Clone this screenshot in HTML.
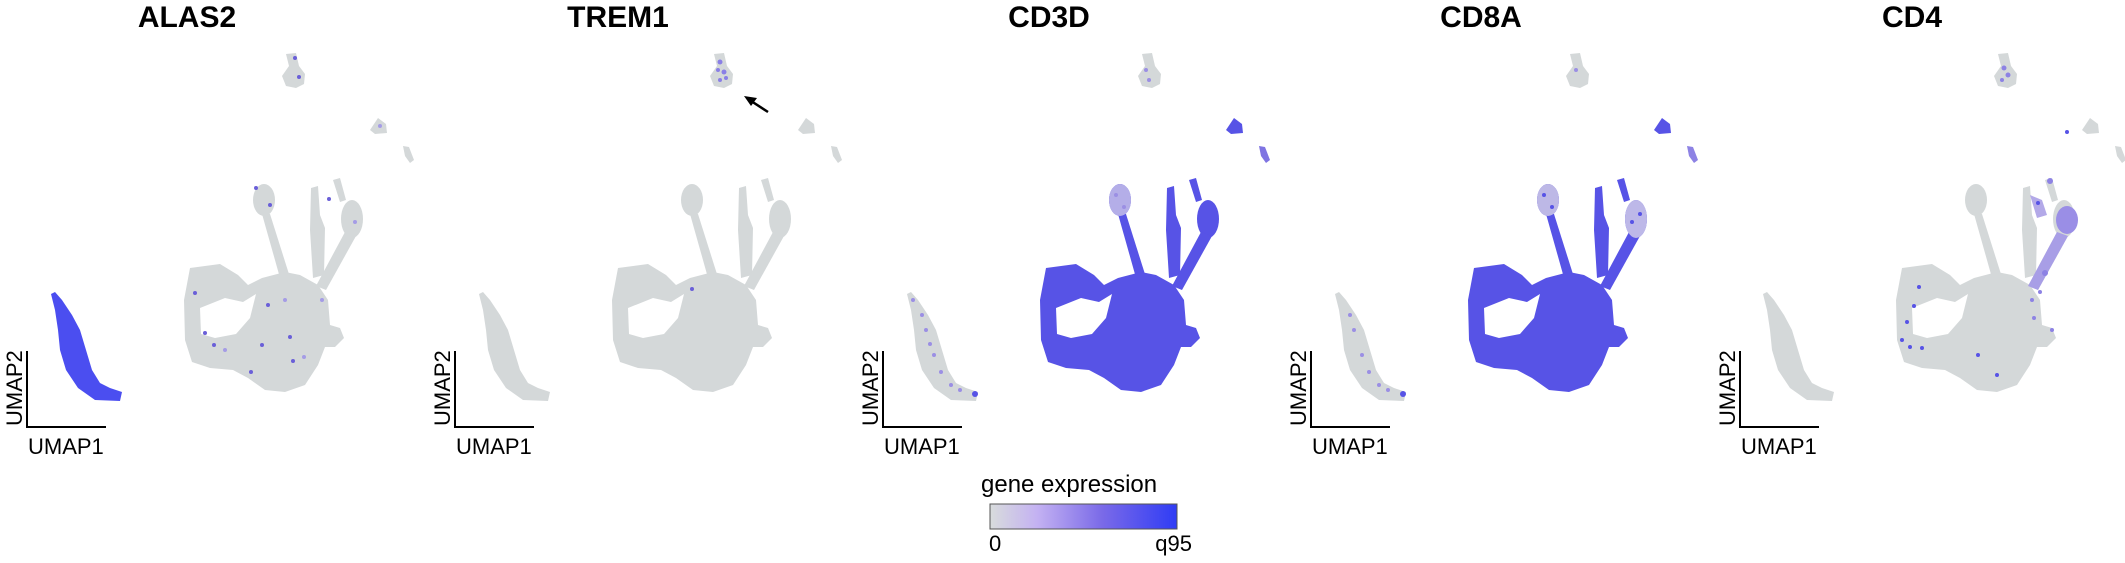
<!DOCTYPE html>
<html><head><meta charset="utf-8"><style>
html,body{margin:0;padding:0;background:#fff;}
svg{display:block;}
text{font-family:"Liberation Sans",Arial,sans-serif;}
</style></head><body>
<svg width="2125" height="563" viewBox="0 0 2125 563" xmlns="http://www.w3.org/2000/svg">
<defs>
<linearGradient id="lg" x1="0" x2="1" y1="0" y2="0">
<stop offset="0" stop-color="#d8dcdc"/>
<stop offset="0.25" stop-color="#c4b2f2"/>
<stop offset="0.6" stop-color="#7a6ae8"/>
<stop offset="1" stop-color="#2f3cf5"/>
</linearGradient>
<g id="island"><path d="M286,54 L296,53 L299,66 L305,74 L304,84 L296,88 L286,86 L282,76 L289,66 Z"/></g>
<g id="small1"><path d="M370,130 L378,118 L386,124 L387,133 L375,134 Z"/></g>
<g id="small2"><path d="M403,146 L409,147 L414,160 L410,163 L405,156 Z"/></g>
<g id="arms">
<ellipse cx="264" cy="200" rx="11" ry="16"/>
<path d="M262,214 L270,214 L294,290 L284,292 Z"/>
<path d="M311,188 L318,186 L320,215 L325,228 L324,275 L313,278 L310,230 Z"/>
<ellipse cx="352" cy="219" rx="11" ry="19"/>
<path d="M345,232 L356,236 L326,290 L316,286 Z"/>
<path d="M333,180 L340,178 L346,200 L340,202 Z"/>
</g>
<g id="blob"><path d="M190,268 L220,264 L238,275 L248,285 L262,278 L285,272 L300,275 L318,285 L328,300 L330,325 L340,328 L344,338 L335,347 L325,347 L318,365 L305,385 L285,392 L265,390 L248,378 L233,370 L210,368 L192,362 L185,340 L184,300 Z"/></g>
<g id="hole"><path d="M200,308 L225,298 L243,302 L256,294 L250,318 L236,334 L215,338 L201,334 Z"/></g>
<g id="cres"><path d="M51,294 L55,310 L58,330 L60,350 L66,370 L78,388 L95,400 L120,401 L122,392 L110,388 L100,383 L92,370 L86,350 L80,330 L72,315 L62,300 L55,292 Z"/></g>
</defs>

<g font-weight="bold" font-size="30" text-anchor="middle" fill="#000">
<text x="187" y="27">ALAS2</text>
<text x="618" y="27">TREM1</text>
<text x="1049" y="27">CD3D</text>
<text x="1481" y="27">CD8A</text>
<text x="1912" y="27">CD4</text>
</g>

<!-- Panel 1 ALAS2 -->
<g transform="translate(0,0)">
<g fill="#d4d8d9"><use href="#island"/><use href="#small1"/><use href="#small2"/><use href="#arms"/><use href="#blob"/></g>
<use href="#hole" fill="#fff"/>
<use href="#cres" fill="#4b4ef0"/>
<g fill="#6a5fd8"><circle cx="295" cy="58" r="2"/><circle cx="299" cy="77" r="2"/><circle cx="256" cy="188" r="2"/><circle cx="270" cy="205" r="2"/><circle cx="329" cy="199" r="2"/><circle cx="195" cy="293" r="2"/><circle cx="205" cy="333" r="2"/><circle cx="262" cy="345" r="2"/><circle cx="290" cy="337" r="2"/><circle cx="214" cy="345" r="2"/><circle cx="268" cy="305" r="2"/><circle cx="293" cy="361" r="2"/><circle cx="251" cy="372" r="2"/></g>
<g fill="#a59ce6"><circle cx="285" cy="300" r="2"/><circle cx="304" cy="357" r="2"/><circle cx="225" cy="350" r="2"/><circle cx="322" cy="300" r="2"/><circle cx="355" cy="222" r="2"/><circle cx="380" cy="126" r="2"/></g>
</g>

<!-- Panel 2 TREM1 -->
<g transform="translate(428,0)">
<g fill="#d4d8d9"><use href="#island"/><use href="#small1"/><use href="#small2"/><use href="#arms"/><use href="#blob"/><use href="#cres"/></g>
<use href="#hole" fill="#fff"/>
<g fill="#8a7fe6"><circle cx="292" cy="62" r="2.5"/><circle cx="296" cy="72" r="2.5"/><circle cx="290" cy="70" r="2"/><circle cx="298" cy="78" r="2"/><circle cx="292" cy="80" r="2"/></g>
<circle cx="264" cy="289" r="2" fill="#6a5fd8"/>
</g>
<path d="M768,112 L748,99" stroke="#000" stroke-width="2.5"/>
<path d="M744,96 L757,98 L751,106 Z" fill="#000"/>

<!-- Panel 3 CD3D -->
<g transform="translate(856,0)">
<g fill="#d4d8d9"><use href="#island"/><use href="#cres"/></g>
<g fill="#5753e6"><use href="#small1"/><use href="#arms"/><use href="#blob"/></g>
<use href="#small2" fill="#7f74e2"/>
<ellipse cx="264" cy="200" rx="11" ry="16" fill="#b4aee8"/>
<use href="#hole" fill="#fff"/>
<g fill="#9b8fe4"><circle cx="70" cy="330" r="2"/><circle cx="78" cy="355" r="2"/><circle cx="85" cy="372" r="2"/><circle cx="95" cy="385" r="2"/><circle cx="66" cy="315" r="2"/><circle cx="74" cy="344" r="2"/><circle cx="104" cy="390" r="2"/><circle cx="290" cy="70" r="2"/><circle cx="293" cy="80" r="2"/><circle cx="57" cy="300" r="2"/><circle cx="260" cy="195" r="2"/><circle cx="268" cy="207" r="2"/></g>
<circle cx="119" cy="394" r="3" fill="#5753e6"/>
</g>

<!-- Panel 4 CD8A -->
<g transform="translate(1284,0)">
<g fill="#d4d8d9"><use href="#island"/><use href="#cres"/></g>
<g fill="#5753e6"><use href="#small1"/><use href="#arms"/><use href="#blob"/></g>
<use href="#small2" fill="#8d82e4"/>
<ellipse cx="264" cy="200" rx="11" ry="16" fill="#bdb8e6"/>
<ellipse cx="352" cy="219" rx="11" ry="19" fill="#bdb8e8"/>
<use href="#hole" fill="#fff"/>
<g fill="#9b8fe4"><circle cx="70" cy="330" r="2"/><circle cx="78" cy="355" r="2"/><circle cx="85" cy="372" r="2"/><circle cx="95" cy="385" r="2"/><circle cx="66" cy="315" r="2"/><circle cx="104" cy="390" r="2"/><circle cx="292" cy="70" r="2"/></g>
<g fill="#5753e6"><circle cx="348" cy="222" r="2"/><circle cx="356" cy="214" r="2"/><circle cx="260" cy="195" r="2"/><circle cx="268" cy="207" r="2"/><circle cx="119" cy="394" r="3"/></g>
</g>

<!-- Panel 5 CD4 -->
<g transform="translate(1712,0)">
<g fill="#d4d8d9"><use href="#island"/><use href="#small1"/><use href="#small2"/><use href="#arms"/><use href="#blob"/><use href="#cres"/></g>
<use href="#hole" fill="#fff"/>
<ellipse cx="355" cy="220" rx="11" ry="14" fill="#9a8ee6"/>
<path d="M345,232 L356,236 L326,290 L316,286 Z" fill="#a89ee6"/>
<path d="M318,195 L330,200 L335,215 L325,218 Z" fill="#b3a9e8"/>
<g fill="#8d82e4"><circle cx="292" cy="68" r="2.5"/><circle cx="296" cy="75" r="2.5"/><circle cx="290" cy="80" r="2"/><circle cx="338" cy="181" r="3"/><circle cx="333" cy="273" r="3"/><circle cx="328" cy="292" r="2"/><circle cx="320" cy="300" r="2"/><circle cx="322" cy="318" r="2"/><circle cx="340" cy="330" r="2"/></g>
<g fill="#5753e6"><circle cx="207" cy="287" r="2"/><circle cx="202" cy="306" r="2"/><circle cx="195" cy="322" r="2"/><circle cx="190" cy="340" r="2"/><circle cx="198" cy="347" r="2"/><circle cx="210" cy="348" r="2"/><circle cx="266" cy="355" r="2"/><circle cx="285" cy="375" r="2"/><circle cx="355" cy="132" r="2"/><circle cx="326" cy="203" r="2"/></g>
</g>

<g stroke="#000" stroke-width="2" fill="none">
<path d="M27,351 V427 H106"/>
<path d="M455,351 V427 H534"/>
<path d="M883,351 V427 H962"/>
<path d="M1311,351 V427 H1390"/>
<path d="M1740,351 V427 H1819"/>
</g>
<g font-size="22" fill="#000">
<text x="28" y="454">UMAP1</text>
<text x="456" y="454">UMAP1</text>
<text x="884" y="454">UMAP1</text>
<text x="1312" y="454">UMAP1</text>
<text x="1741" y="454">UMAP1</text>
<text transform="translate(22,426) rotate(-90)">UMAP2</text>
<text transform="translate(450,426) rotate(-90)">UMAP2</text>
<text transform="translate(878,426) rotate(-90)">UMAP2</text>
<text transform="translate(1306,426) rotate(-90)">UMAP2</text>
<text transform="translate(1735,426) rotate(-90)">UMAP2</text>
</g>

<text x="981" y="492" font-size="24" fill="#000">gene expression</text>
<rect x="990" y="504" width="187" height="25" fill="url(#lg)" stroke="#555" stroke-width="1"/>
<text x="989" y="551" font-size="22" fill="#000">0</text>
<text x="1192" y="551" font-size="22" fill="#000" text-anchor="end">q95</text>
</svg>
</body></html>
